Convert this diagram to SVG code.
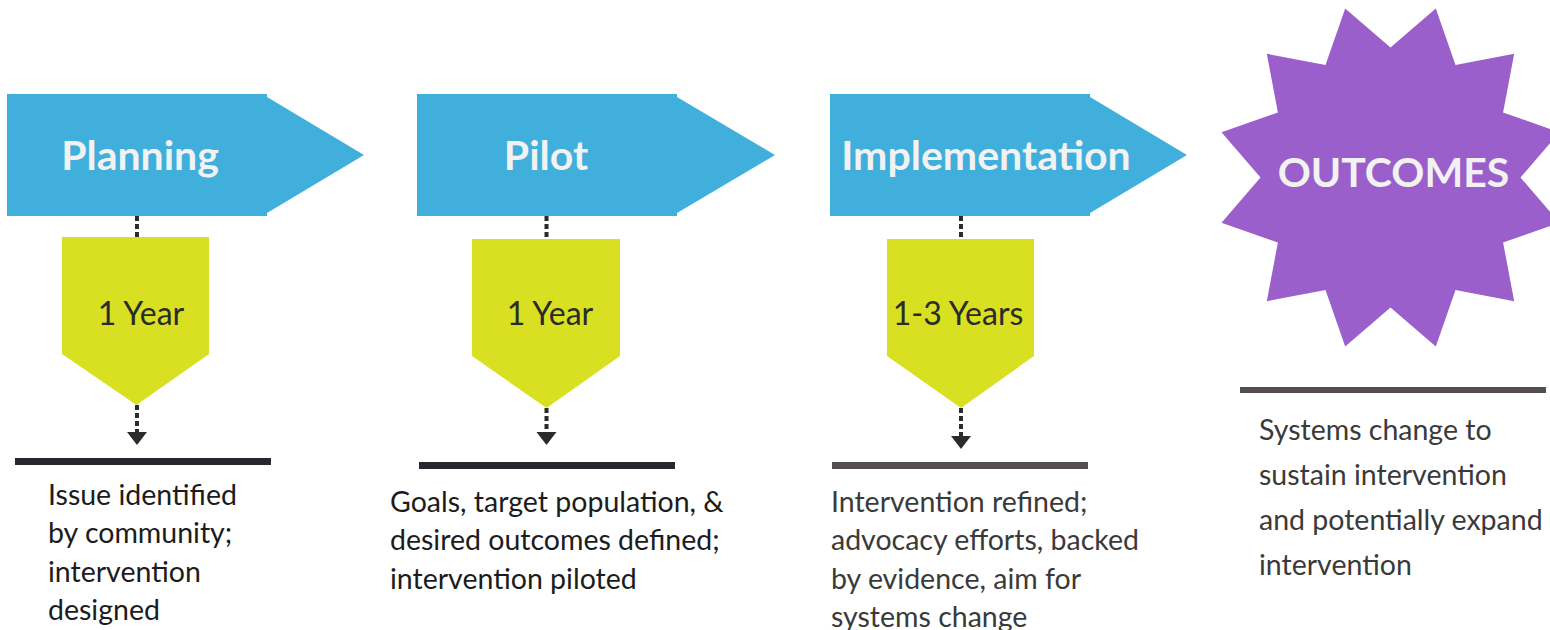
<svg xmlns="http://www.w3.org/2000/svg" width="1550" height="630" viewBox="0 0 1550 630">
<style>
.phase{fill:#40afdb}
.dur{fill:#d8e021}
.star{fill:#9b5fcb}
.ttl{font-family:Lato,"Noto Sans",sans-serif;font-weight:bold;font-size:41px;fill:#f2f2f2;text-anchor:middle}
.yr{font-family:Lato,"Noto Sans",sans-serif;font-size:32px;fill:#2b2b2b;text-anchor:middle}
.desc{font-family:Lato,"Noto Sans",sans-serif;font-size:28.5px;fill:#1c1c1c}
.desc2{font-family:Lato,"Noto Sans",sans-serif;font-size:28.5px;fill:#3a3a3a}
.dash{stroke:#2b2b2b;stroke-width:4;stroke-dasharray:5 3;fill:none}
.head{fill:#2b2b2b}
</style>
<rect width="1550" height="630" fill="#ffffff"/>
<g id="connectors">
<line class="dash" x1="137" y1="216" x2="137" y2="237"/>
<line class="dash" x1="137" y1="405" x2="137" y2="433"/>
<polygon class="head" points="127,432 147,432 137,445"/>
<line class="dash" x1="546.5" y1="216" x2="546.5" y2="239"/>
<line class="dash" x1="546.5" y1="408" x2="546.5" y2="433"/>
<polygon class="head" points="536.5,432 556.5,432 546.5,445"/>
<line class="dash" x1="961" y1="216" x2="961" y2="239"/>
<line class="dash" x1="961" y1="408" x2="961" y2="437"/>
<polygon class="head" points="951,436 971,436 961,449"/>
</g>
<g id="planning">
<polygon class="phase" points="7,94 267,94 267,97 364,155 267,213 267,216 7,216"/>
<text class="ttl" x="140" y="170">Planning</text>
</g>
<g id="pilot">
<polygon class="phase" points="417,94 677,94 677,97 775,155 677,213 677,216 417,216"/>
<text class="ttl" x="546" y="170">Pilot</text>
</g>
<g id="implementation">
<polygon class="phase" points="830,94 1090,94 1090,97 1187,155 1090,213 1090,216 830,216"/>
<text class="ttl" x="986" y="170">Implementation</text>
</g>
<g id="outcomes">
<polygon class="star" points="1345.2,8.5 1390.5,47.5 1435.8,8.5 1455.5,64.9 1514.2,53.8 1503.1,112.5 1559.5,132.2 1520.5,177.5 1559.5,222.8 1503.1,242.5 1514.2,301.2 1455.5,290.1 1435.8,346.5 1390.5,307.5 1345.2,346.5 1325.5,290.1 1266.8,301.2 1277.9,242.5 1221.5,222.8 1260.5,177.5 1221.5,132.2 1277.9,112.5 1266.8,53.8 1325.5,64.9"/>
<text class="ttl" x="1393.5" y="187">OUTCOMES</text>
</g>
<g id="planning-duration">
<polygon class="dur" points="62,237 209,237 209,354 136.5,405 62,354"/>
<text class="yr" x="141" y="325">1 Year</text>
</g>
<g id="pilot-duration">
<polygon class="dur" points="472,239 620,239 620,356 546.5,408 472,356"/>
<text class="yr" x="550" y="325">1 Year</text>
</g>
<g id="implementation-duration">
<polygon class="dur" points="887,239 1034,239 1034,356 961,408 887,356"/>
<text class="yr" x="958" y="325">1-3 Years</text>
</g>
<g id="planning-desc">
<rect x="15" y="458" width="256" height="7" fill="#2b2530"/>
<text class="desc" x="48" y="505">Issue identified</text>
<text class="desc" x="48" y="543">by community;</text>
<text class="desc" x="48" y="582">intervention</text>
<text class="desc" x="48" y="620">designed</text>
</g>
<g id="pilot-desc">
<rect x="419" y="462" width="256" height="7" fill="#2b2530"/>
<text class="desc" x="390" y="512">Goals, target population, &amp;</text>
<text class="desc" x="390" y="550">desired outcomes defined;</text>
<text class="desc" x="390" y="589">intervention piloted</text>
</g>
<g id="implementation-desc">
<rect x="832" y="462" width="256" height="7" fill="#544e50"/>
<text class="desc2" x="831" y="512">Intervention refined;</text>
<text class="desc2" x="831" y="550">advocacy efforts, backed</text>
<text class="desc2" x="831" y="589">by evidence, aim for</text>
<text class="desc2" x="831" y="627">systems change</text>
</g>
<g id="outcomes-desc">
<rect x="1240" y="387" width="306" height="6" fill="#544e50"/>
<text class="desc2" x="1259" y="440">Systems change to</text>
<text class="desc2" x="1259" y="485">sustain intervention</text>
<text class="desc2" x="1259" y="530">and potentially expand</text>
<text class="desc2" x="1259" y="575">intervention</text>
</g>
</svg>
